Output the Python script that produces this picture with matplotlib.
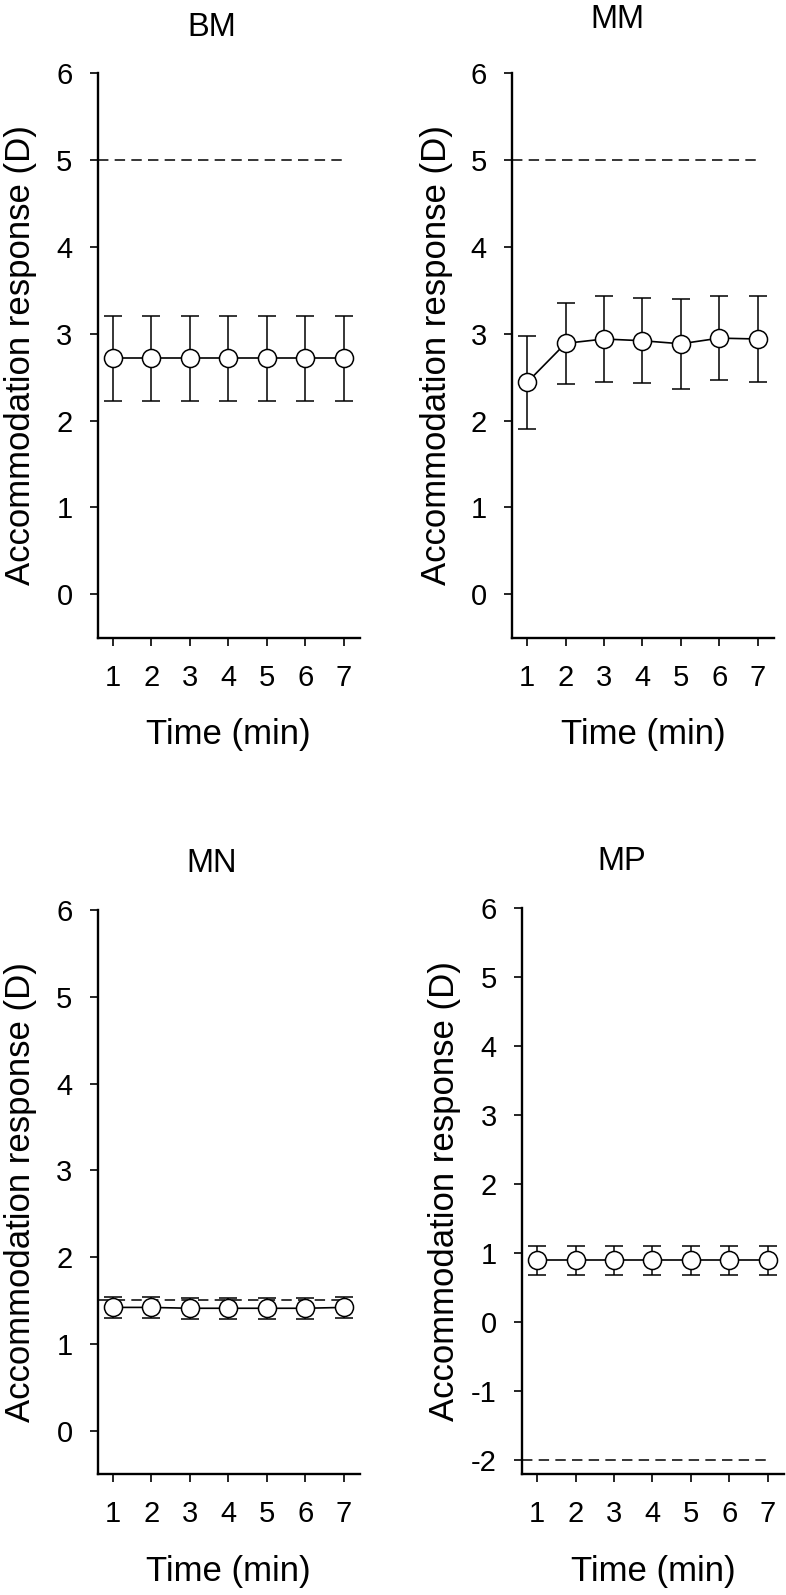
import matplotlib
matplotlib.use("Agg")
import matplotlib.pyplot as plt

plt.rcParams['font.family'] = ['Liberation Sans', 'DejaVu Sans']
plt.rcParams['lines.scale_dashes'] = False
plt.rcParams['axes.unicode_minus'] = False

# data
times = [1, 2, 3, 4, 5, 6, 7]
names = ["BM", "MM", "MN", "MP"]
bm_mean = [2.72, 2.72, 2.72, 2.72, 2.72, 2.72, 2.72]
bm_err = [0.49, 0.49, 0.49, 0.49, 0.49, 0.49, 0.49]
mm_mean = [2.44, 2.89, 2.94, 2.92, 2.885, 2.95, 2.94]
mm_err = [0.54, 0.47, 0.50, 0.49, 0.52, 0.48, 0.49]
mn_mean = [1.42, 1.42, 1.41, 1.41, 1.41, 1.41, 1.42]
mn_err = [0.12, 0.12, 0.12, 0.12, 0.12, 0.12, 0.12]
mp_mean = [0.90, 0.90, 0.90, 0.90, 0.90, 0.90, 0.90]
mp_err = [0.21, 0.21, 0.21, 0.21, 0.21, 0.21, 0.21]
targets = [5, 5, 1.5, -2]
yticks_std = [0, 1, 2, 3, 4, 5, 6]
yticks_mp = [-2, -1, 0, 1, 2, 3, 4, 5, 6]

W, H = 786, 1595
fig = plt.figure(figsize=(W / 100, H / 100), dpi=100)

# (left px, top px, right px, bottom px)
boxes = [(97.5, 73.3, 360, 637.7), (511.7, 73.3, 774, 637.7),
         (97.5, 910, 360, 1474), (521.7, 908, 784, 1474)]
title_pos = [(212, 27), (617, 20), (212, 864), (622, 862)]
ylab_x = [21, 437, 21, 444]

means = [bm_mean, mm_mean, mn_mean, mp_mean]
errs = [bm_err, mm_err, mn_err, mp_err]
ylims = [(-0.5, 6), (-0.5, 6), (-0.5, 6), (-2.2, 6)]
yticks = [yticks_std, yticks_std, yticks_std, yticks_mp]

for i in range(4):
    l, t, r, b = boxes[i]
    ax = fig.add_axes([l / W, 1 - b / H, (r - l) / W, (b - t) / H])
    x0, x1 = 0.6, 7.42
    ax.set_xlim(x0, x1)
    ax.set_ylim(*ylims[i])

    ax.plot([x0, times[-1]], [targets[i], targets[i]], color='black',
            lw=1.1, dashes=(7.5, 4.5), zorder=1)
    ax.errorbar(times, means[i], yerr=errs[i], color='black', lw=1.2,
                elinewidth=1.1, capsize=6.4, capthick=1.1, marker='o',
                markersize=13, markerfacecolor='white',
                markeredgecolor='black', markeredgewidth=1.1, zorder=3)

    ax.set_xticks(times)
    ax.set_yticks(yticks[i])
    ax.tick_params(axis='both', labelsize=21, length=6, width=1.2,
                   direction='out')
    ax.tick_params(axis='x', pad=13)
    ax.tick_params(axis='y', pad=12)
    for s in ['top', 'right']:
        ax.spines[s].set_visible(False)
    for s in ['left', 'bottom']:
        ax.spines[s].set_linewidth(1.7)

    fig.text(title_pos[i][0] / W, 1 - title_pos[i][1] / H, names[i],
             fontsize=23.5, ha='center', va='center')
    fig.text(ylab_x[i] / W, 1 - ((t + b) / 2) / H,
             "Accommodation response (D)", fontsize=25, rotation=90,
             ha='center', va='center')
    fig.text(((l + r) / 2) / W, 1 - (b + 97) / H, "Time (min)",
             fontsize=25, ha='center', va='center')

fig.savefig("out.png", dpi=100)
